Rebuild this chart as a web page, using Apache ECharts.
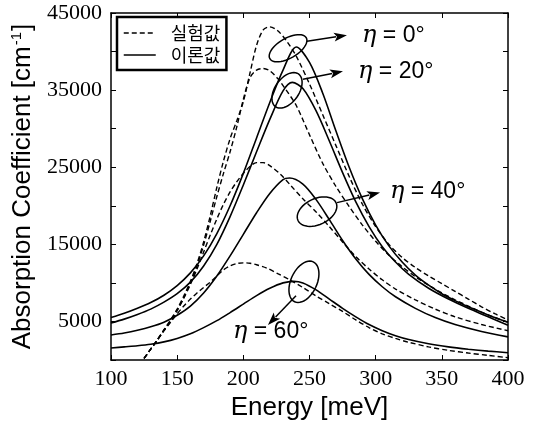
<!DOCTYPE html>
<html><head><meta charset="utf-8">
<script src="https://cdn.jsdelivr.net/npm/echarts@6/dist/echarts.min.js"></script>
<style>html,body{margin:0;padding:0;background:#fff}#c{width:543px;height:428px}</style>
</head><body><div id="c"></div>
<script>
// ---- data ----
const xTickValues = [100, 150, 200, 250, 300, 350, 400];
const yLabelValues = [5000, 15000, 25000, 35000, 45000];
const legendNames = ['실험값', '이론값'];
const angleLabels = ['η = 0°', 'η = 20°', 'η = 40°', 'η = 60°'];

const exp0 = [[125,200],[130,1400],[135,2600],[140,3900],[145,5200],[150,6600],[155,8300],[160,10200],[165,12500],[170,15300],[175,18700],[180,22400],[185,25800],[190,28700],[195,31000],[200,33500],[205,37200],[210,40800],[215,42800],[220,43200],[226,42700],[233,41300],[240,39400],[250,35800],[260,31800],[270,27800],[280,23800],[290,20200],[300,17300],[310,15000],[320,13300],[330,12000],[340,10900],[350,9900],[360,8900],[370,7900],[380,6900],[390,6000],[400,5200]];
const exp20 = [[125,200],[130,1400],[135,2600],[140,3900],[145,5100],[150,6500],[155,8100],[160,10000],[165,12200],[170,14900],[175,18000],[180,21200],[185,24200],[190,27000],[195,30200],[200,33800],[205,36600],[210,37600],[215,37800],[220,37500],[226,36500],[232,35100],[240,33000],[250,29200],[260,25500],[270,22500],[280,19900],[290,17500],[300,15400],[310,13600],[320,12100],[330,10800],[340,9700],[350,8700],[360,7800],[370,7000],[380,6200],[390,5500],[400,4900]];
const exp40 = [[125,200],[130,1400],[135,2600],[140,3800],[145,5000],[150,6400],[155,8000],[160,9800],[165,11800],[170,14000],[175,16200],[180,18300],[185,20200],[190,21800],[195,23100],[200,24200],[205,25100],[210,25600],[215,25600],[220,25200],[228,24100],[236,22600],[245,20900],[255,19200],[265,17300],[275,15300],[285,13400],[295,11800],[305,10400],[315,9200],[330,7800],[345,6600],[360,5600],[380,4600],[400,3800]];
const exp60 = [[125,200],[130,1400],[135,2600],[140,3800],[145,4900],[150,6000],[155,7000],[160,7900],[165,8700],[170,9400],[175,10100],[180,10900],[185,11700],[190,12200],[195,12500],[200,12600],[205,12550],[210,12350],[218,11900],[226,11200],[235,10400],[245,9400],[255,8300],[265,7300],[275,6300],[285,5200],[295,4200],[305,3400],[315,2800],[325,2300],[340,1700],[355,1250],[370,900],[385,600],[400,300]];

const theory0 = [[100,5500],[110,6050],[120,6700],[130,7450],[140,8400],[150,9650],[160,11300],[170,13500],[180,16400],[190,20000],[200,24200],[210,28800],[220,33400],[230,37600],[240,40600],[250,38600],[260,34600],[270,29700],[280,25000],[290,20900],[300,17500],[310,14800],[320,12700],[330,11000],[340,9700],[350,8600],[360,7700],[370,6900],[380,6200],[390,5500],[400,4900]];
const theory20 = [[100,4800],[110,5300],[120,5900],[130,6600],[140,7500],[150,8600],[160,10100],[170,12200],[180,15000],[190,18600],[200,22700],[210,27000],[220,31200],[230,34900],[237,36000],[245,35200],[255,32300],[265,28400],[275,24300],[285,20500],[295,17300],[305,14700],[315,12700],[325,11100],[340,9300],[355,7900],[370,6700],[385,5600],[400,4500]];
const theory40 = [[100,3250],[110,3500],[120,3850],[130,4300],[140,4900],[150,5800],[160,7000],[170,8700],[180,10900],[190,13500],[200,16300],[210,19100],[220,21600],[230,23400],[235,23600],[245,22800],[255,20800],[265,18200],[275,15500],[285,13100],[295,11100],[305,9500],[315,8200],[330,6700],[345,5500],[360,4600],[380,3700],[400,3000]];
const theory60 = [[100,1550],[110,1700],[120,1850],[130,2050],[140,2350],[150,2800],[160,3400],[170,4200],[180,5100],[190,6150],[200,7250],[210,8350],[220,9300],[230,10000],[238,10200],[245,10000],[255,9100],[265,7900],[275,6700],[285,5600],[295,4600],[305,3800],[315,3150],[325,2650],[340,2100],[355,1700],[370,1400],[385,1150],[400,950]];

// ---- annotation anchors (data coordinates) ----
const ellipseCenters = [[233.8,40430],[233,34970],[255.7,19240],[245.8,10140]];
const arrowStarts = [[248.1,41340],[245.1,36400],[270.8,20410],[239.8,8320]];
const arrowEnds = [[278.3,42120],[275.3,37440],[303.3,21710],[218.6,4550]];
const labelAnchors = [[289.7,42000],[286.7,37440],[310.8,21840],[192.2,3640]];
const ellipseShape = [[21,10,30],[20,12,55],[21,13,25],[22,13,65]]; // rx, ry(px), tilt deg

const chart = echarts.init(document.getElementById('c'), null, {renderer: 'canvas'});
const serifFont = 'Liberation Serif, Times New Roman, serif';
const sansFont = 'Liberation Sans, Arial, sans-serif';

function lineSeries(name, data, dashed) {
  return {
    type: 'line', name: name, data: data, smooth: 0.3,
    symbol: 'none', showSymbol: false, silent: true, animation: false,
    xAxisIndex: 0, yAxisIndex: 0,
    lineStyle: {color: '#000', width: dashed ? 1.4 : 1.6, type: dashed ? [5, 3] : 'solid'},
    itemStyle: {color: '#000'}
  };
}

const tickCommon = {show: true, inside: true, length: 5, lineStyle: {color: '#000', width: 1}};
const lineCommon = {show: true, onZero: false, lineStyle: {color: '#000', width: 1.5}};

chart.setOption({
  backgroundColor: '#fff',
  animation: false,
  grid: {left: 111, right: 35, top: 13, bottom: 68, containLabel: false},
  legend: {
    data: legendNames, orient: 'vertical', left: 117, top: 17,
    borderColor: '#000', borderWidth: 2.5, padding: [7, 6, 6, 6],
    itemWidth: 32, itemHeight: 14, itemGap: 4, selectedMode: false,
    itemStyle: {color: 'rgba(0,0,0,0)', borderWidth: 0, opacity: 0},
    lineStyle: {color: '#000', width: 1.5},
    textStyle: {fontSize: 18, color: '#000', fontFamily: 'Noto Sans CJK KR', padding: [0, 0, 0, 10]}
  },
  xAxis: [{
    type: 'value', min: 100, max: 400, interval: 50, position: 'bottom',
    axisLine: lineCommon, axisTick: tickCommon, splitLine: {show: false},
    axisLabel: {color: '#000', fontSize: 22, fontFamily: serifFont, margin: 8},
    name: 'Energy [meV]', nameLocation: 'middle', nameGap: 33,
    nameTextStyle: {color: '#000', fontSize: 26, fontFamily: sansFont}
  }, {
    type: 'value', min: 100, max: 400, interval: 50, position: 'top',
    axisLine: lineCommon, axisTick: tickCommon, splitLine: {show: false}, axisLabel: {show: false}
  }],
  yAxis: [{
    type: 'value', min: 0, max: 45000, interval: 5000, position: 'left',
    axisLine: lineCommon, axisTick: tickCommon, splitLine: {show: false},
    axisLabel: {color: '#000', fontSize: 22, fontFamily: serifFont, margin: 9,
      formatter: v => yLabelValues.indexOf(v) >= 0 ? String(v) : ''},
    name: 'Absorption Coefficient [cm{sup|-1}]', nameLocation: 'middle', nameGap: 72, nameRotate: 90,
    nameTextStyle: {color: '#000', fontSize: 26, fontFamily: sansFont,
      rich: {sup: {fontSize: 15, fontFamily: sansFont, color: '#000', verticalAlign: 'bottom', padding: [0, 1, 12, 1]}}}
  }, {
    type: 'value', min: 0, max: 45000, interval: 5000, position: 'right',
    axisLine: lineCommon, axisTick: tickCommon, splitLine: {show: false}, axisLabel: {show: false}
  }],
  series: [
    lineSeries(legendNames[0], exp0, true),
    lineSeries(legendNames[0], exp20, true),
    lineSeries(legendNames[0], exp40, true),
    lineSeries(legendNames[0], exp60, true),
    lineSeries(legendNames[1], theory0, false),
    lineSeries(legendNames[1], theory20, false),
    lineSeries(legendNames[1], theory40, false),
    lineSeries(legendNames[1], theory60, false)
  ]
});

// ---- annotations: ellipses, arrows and angle labels ----
function px(p) { return chart.convertToPixel({gridIndex: 0}, p); }
const elements = [];
for (let i = 0; i < 4; i++) {
  const c = px(ellipseCenters[i]);
  const [rx, ry, tiltDeg] = ellipseShape[i];
  const th = tiltDeg * Math.PI / 180;
  const pts = [];
  for (let k = 0; k < 48; k++) {
    const t = k / 48 * Math.PI * 2;
    const ex = rx * Math.cos(t), ey = ry * Math.sin(t);
    pts.push([c[0] + ex * Math.cos(th) - ey * Math.sin(th), c[1] - (ex * Math.sin(th) + ey * Math.cos(th))]);
  }
  elements.push({type: 'polygon', shape: {points: pts}, style: {fill: 'none', stroke: '#000', lineWidth: 1.5}, z: 100});
  const s = px(arrowStarts[i]), e = px(arrowEnds[i]);
  const dx = e[0] - s[0], dy = e[1] - s[1], L = Math.hypot(dx, dy);
  const ux = dx / L, uy = dy / L, hl = 13, hw = 4.5;
  const bx = e[0] - ux * hl, by = e[1] - uy * hl;
  elements.push({type: 'line', shape: {x1: s[0], y1: s[1], x2: bx + ux * 2, y2: by + uy * 2}, style: {stroke: '#000', lineWidth: 1.5}, z: 100});
  elements.push({type: 'polygon', shape: {points: [[e[0], e[1]], [bx - uy * hw, by + ux * hw], [bx + ux * 3, by + uy * 3], [bx + uy * hw, by - ux * hw]]}, style: {fill: '#000'}, z: 100});
  const l = px(labelAnchors[i]);
  const parts = angleLabels[i].split(' = ');
  elements.push({type: 'text', x: l[0], y: l[1], z: 101, style: {
    text: '{e|' + parts[0] + '}{t| = ' + parts[1] + '}',
    align: 'left', verticalAlign: 'middle', fill: '#000',
    rich: {
      e: {fontFamily: 'DejaVu Serif', fontStyle: 'italic', fontSize: 24, fill: '#000'},
      t: {fontFamily: sansFont, fontSize: 23, fill: '#000'}
    }
  }});
}
chart.setOption({graphic: {elements: elements}});
</script>
</body></html>
